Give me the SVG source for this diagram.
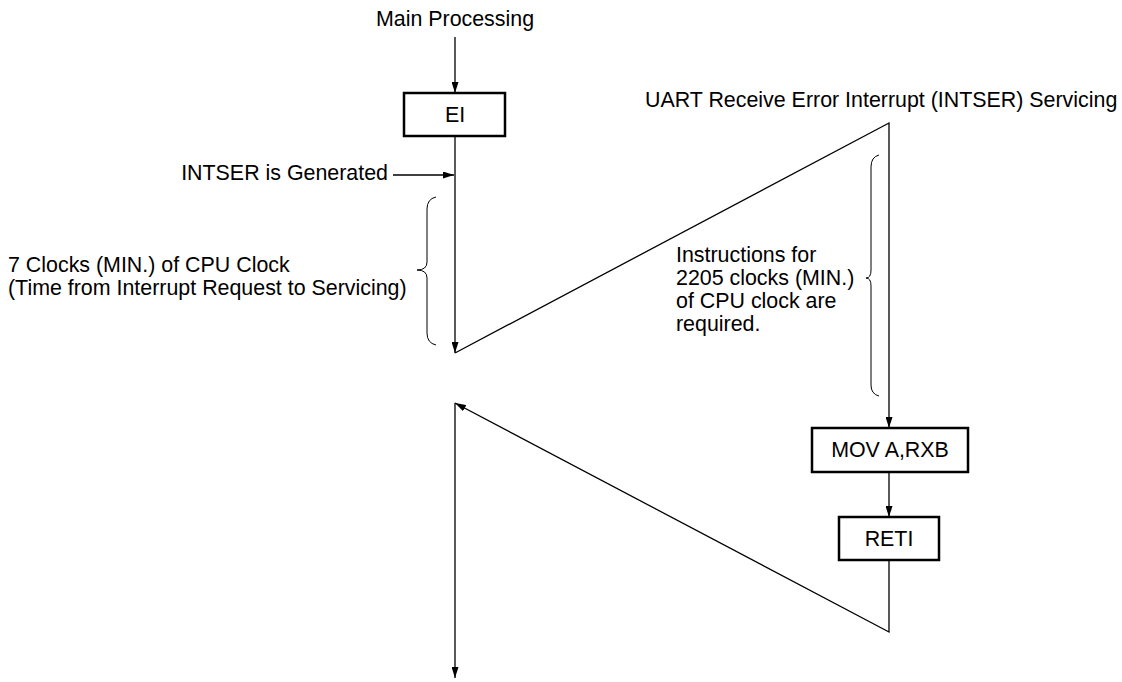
<svg xmlns="http://www.w3.org/2000/svg" width="1122" height="682" viewBox="0 0 1122 682">
  <style>
    text { font-family: "Liberation Sans", Arial, sans-serif; font-size: 21.4px; fill: #000; }
    .box { fill: #fff; stroke: #000; stroke-width: 2.5; }
    .line { fill: none; stroke: #000; stroke-width: 1.3; }
    .brace { fill: none; stroke: #000; stroke-width: 1; }
    .c { text-anchor: middle; }
  </style>
  <defs>
    <marker id="arr" markerUnits="userSpaceOnUse" markerWidth="12" markerHeight="7" refX="11" refY="3.5" orient="auto">
      <path d="M0,0 L11,3.5 L0,7 z" fill="#000"/>
    </marker>
  </defs>

  <g id="labels">
    <text x="455" y="26" class="c">Main Processing</text>
    <text x="645" y="107">UART Receive Error Interrupt (INTSER) Servicing</text>
    <text x="388" y="180" text-anchor="end">INTSER is Generated</text>
    <text x="8" y="272">7 Clocks (MIN.) of CPU Clock</text>
    <text x="8" y="295">(Time from Interrupt Request to Servicing)</text>
    <text x="676" y="262">Instructions for</text>
    <text x="676" y="285">2205 clocks (MIN.)</text>
    <text x="676" y="308">of CPU clock are</text>
    <text x="676" y="331">required.</text>
  </g>

  <g id="braces">
    <path class="brace" d="M436,197 Q427,199 427,209 L427,262 Q427,270 417,270 Q427,270 427,278 L427,333 Q427,343 436,345"/>
    <path class="brace" d="M879,155 Q871,157 871,167 L871,270 Q871,278 866,278 Q871,278 871,286 L871,385 Q871,394 879,396"/>
  </g>

  <g id="connectors">
    <line class="line" x1="455" y1="37" x2="455" y2="93" marker-end="url(#arr)"/>
    <line class="line" x1="455" y1="136" x2="455" y2="353" marker-end="url(#arr)"/>
    <line class="line" x1="393" y1="175" x2="454" y2="175" marker-end="url(#arr)"/>
    <polyline class="line" points="455,353 889,123 889,428" marker-end="url(#arr)"/>
    <line class="line" x1="889" y1="472" x2="889" y2="517" marker-end="url(#arr)"/>
    <polyline class="line" points="889,560 889,632 455,403" marker-end="url(#arr)"/>
    <line class="line" x1="455" y1="403" x2="455" y2="678" marker-end="url(#arr)"/>
  </g>

  <g id="node-ei">
    <rect class="box" x="404" y="93" width="101" height="43"/>
    <text x="455" y="122" class="c">EI</text>
  </g>
  <g id="node-mov">
    <rect class="box" x="812" y="428" width="156" height="44"/>
    <text x="890" y="457" class="c">MOV A,RXB</text>
  </g>
  <g id="node-reti">
    <rect class="box" x="839" y="517" width="100" height="43"/>
    <text x="889" y="546" class="c">RETI</text>
  </g>
</svg>
